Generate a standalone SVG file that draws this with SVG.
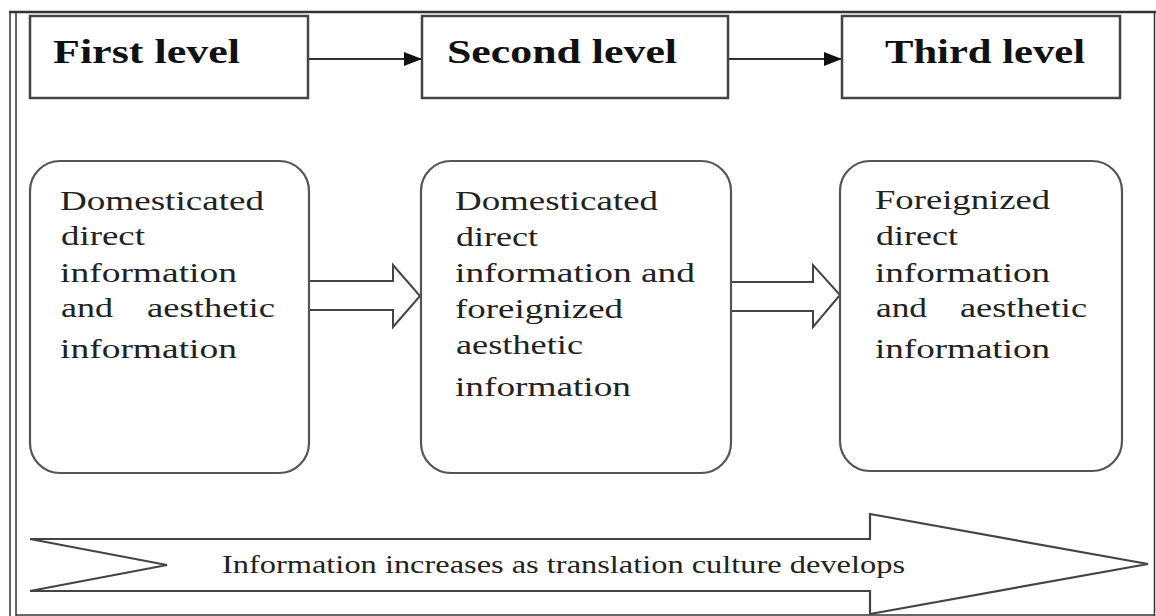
<svg xmlns="http://www.w3.org/2000/svg" width="1156" height="616" viewBox="0 0 1156 616">
<style>
.frame{stroke:#333;fill:none}
.lvl{fill:#fff;stroke:#444;stroke-width:2.5}
.lvlt{font-family:"Liberation Serif","Times New Roman",serif;font-weight:bold;font-size:33px;fill:#111}
.rb{fill:#fff;stroke:#555;stroke-width:2.2}
.bt{font-family:"Liberation Serif","Times New Roman",serif;font-size:28px;fill:#222}
.conn{stroke:#333;stroke-width:2;fill:none}
.hollow{fill:#fff;stroke:#444;stroke-width:2}
.big{fill:#fff;stroke:#444;stroke-width:2.2}
.bigt{font-family:"Liberation Serif","Times New Roman",serif;font-size:25px;fill:#222}
</style>
<defs>
<marker id="ah" markerWidth="18" markerHeight="14" refX="18" refY="7" orient="auto" markerUnits="userSpaceOnUse">
<path d="M0,0 L18,7 L0,14 Z" fill="#111"/>
</marker>
</defs>
<rect width="1156" height="616" fill="#fff"/>
<g id="frame">
<line class="frame" x1="9" y1="12" x2="1156" y2="12" stroke-width="2.5"/>
<line class="frame" x1="10" y1="12" x2="10" y2="616" stroke-width="1.5"/>
<line class="frame" x1="16" y1="12" x2="16" y2="616" stroke-width="1.5"/>
<line class="frame" x1="1154.5" y1="12" x2="1154.5" y2="616" stroke-width="1.5"/>
<line class="frame" x1="16" y1="615" x2="1154.5" y2="615" stroke-width="1.5"/>
</g>
<g id="connectors">
<line class="conn" x1="308" y1="59" x2="422" y2="59" marker-end="url(#ah)"/>
<line class="conn" x1="728" y1="59" x2="842" y2="59" marker-end="url(#ah)"/>
<polygon class="hollow" points="309,281 393,281 393,265 420,296 393,327 393,310 309,310"/>
<polygon class="hollow" points="731,282 813,282 813,265 840,295 813,327 813,311 731,311"/>
</g>
<g id="first-level">
<rect class="lvl" x="30" y="16" width="278" height="82"/>
<text class="lvlt" x="53" y="63" textLength="187" lengthAdjust="spacingAndGlyphs">First level</text>
</g>
<g id="second-level">
<rect class="lvl" x="422" y="16" width="306" height="82"/>
<text class="lvlt" x="447" y="63" textLength="230" lengthAdjust="spacingAndGlyphs">Second level</text>
</g>
<g id="third-level">
<rect class="lvl" x="842" y="16" width="278" height="82"/>
<text class="lvlt" x="885" y="63" textLength="200" lengthAdjust="spacingAndGlyphs">Third level</text>
</g>
<g id="box1">
<rect class="rb" x="30" y="161" width="279" height="312" rx="30" ry="30"/>
<text class="bt" x="60" y="210" textLength="204" lengthAdjust="spacingAndGlyphs">Domesticated</text>
<text class="bt" x="61" y="245" textLength="84" lengthAdjust="spacingAndGlyphs">direct</text>
<text class="bt" x="60" y="282" textLength="177" lengthAdjust="spacingAndGlyphs">information</text>
<text class="bt" x="61" y="317" textLength="52" lengthAdjust="spacingAndGlyphs">and</text>
<text class="bt" x="147" y="317" textLength="128" lengthAdjust="spacingAndGlyphs">aesthetic</text>
<text class="bt" x="60" y="358" textLength="177" lengthAdjust="spacingAndGlyphs">information</text>
</g>
<g id="box2">
<rect class="rb" x="421" y="161" width="310" height="312" rx="30" ry="30"/>
<text class="bt" x="455" y="210" textLength="203" lengthAdjust="spacingAndGlyphs">Domesticated</text>
<text class="bt" x="456" y="246" textLength="82" lengthAdjust="spacingAndGlyphs">direct</text>
<text class="bt" x="455" y="282" textLength="240" lengthAdjust="spacingAndGlyphs">information and</text>
<text class="bt" x="455" y="318" textLength="168" lengthAdjust="spacingAndGlyphs">foreignized</text>
<text class="bt" x="456" y="354" textLength="127" lengthAdjust="spacingAndGlyphs">aesthetic</text>
<text class="bt" x="455" y="396" textLength="176" lengthAdjust="spacingAndGlyphs">information</text>
</g>
<g id="box3">
<rect class="rb" x="840" y="161" width="282" height="310" rx="30" ry="30"/>
<text class="bt" x="875" y="209" textLength="175" lengthAdjust="spacingAndGlyphs">Foreignized</text>
<text class="bt" x="876" y="245" textLength="82" lengthAdjust="spacingAndGlyphs">direct</text>
<text class="bt" x="875" y="282" textLength="175" lengthAdjust="spacingAndGlyphs">information</text>
<text class="bt" x="876" y="317" textLength="51" lengthAdjust="spacingAndGlyphs">and</text>
<text class="bt" x="960" y="317" textLength="127" lengthAdjust="spacingAndGlyphs">aesthetic</text>
<text class="bt" x="875" y="358" textLength="175" lengthAdjust="spacingAndGlyphs">information</text>
</g>
<g id="progress-arrow">
<polygon class="big" points="30,539 870,539 870,514 1148,564 870,614 870,591 30,591 167,565"/>
<text class="bigt" x="222" y="573" textLength="683" lengthAdjust="spacingAndGlyphs">Information increases as translation culture develops</text>
</g>
</svg>
